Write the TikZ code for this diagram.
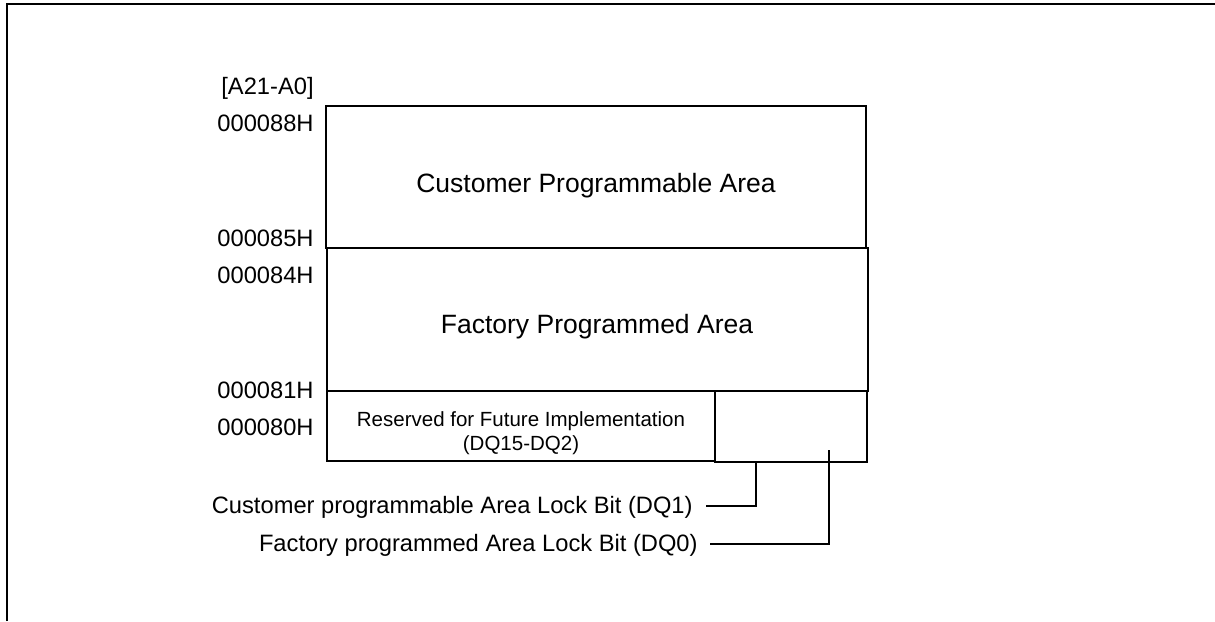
\documentclass[tikz,border=0pt]{standalone}
\usepackage{fontspec}
\setmainfont{Liberation Sans}
\begin{document}
\begin{tikzpicture}[x=0.5pt,y=-0.5pt,
  frame/.style={line width=1pt},
  boxline/.style={line width=1pt},
  leader/.style={line width=0.75pt},
  lbl/.style={inner sep=0pt,font=\fontsize{11.85}{14}\selectfont},
  big/.style={inner sep=0pt,font=\fontsize{13.25}{16}\selectfont},
  small/.style={inner sep=0pt,font=\fontsize{10.25}{12}\selectfont}]
\useasboundingbox (0,0) rectangle (1215,621);
% outer frame (left and top)
\draw[frame] (7,621) -- (7,4) -- (1215,4);
% boxes
\draw[boxline] (326,106) rectangle (866,248);
\draw[boxline] (327,248) rectangle (868,391);
\draw[boxline] (327,391) rectangle (715,461);
\draw[boxline] (715,391) rectangle (867,462);
% address labels
\node[lbl,anchor=base east] (ahead) at (314,94) {[A21-A0]};
\node[lbl,anchor=base east] (a88) at (314,131) {000088H};
\node[lbl,anchor=base east] (a85) at (314,246) {000085H};
\node[lbl,anchor=base east] (a84) at (314,283) {000084H};
\node[lbl,anchor=base east] (a81) at (314,398) {000081H};
\node[lbl,anchor=base east] (a80) at (314,435) {000080H};
% area texts
\node[big,anchor=base] (cpa) at (596,192) {Customer Programmable Area};
\node[big,anchor=base] (fpa) at (597,333) {Factory Programmed Area};
\node[small,anchor=base] (res1) at (521,426) {Reserved for Future Implementation};
\node[small,anchor=base] (res2) at (521,450) {(DQ15-DQ2)};
% lock bit labels
\node[lbl,anchor=base east] (lk1) at (693,513) {Customer programmable Area Lock Bit (DQ1)};
\node[lbl,anchor=base east] (lk0) at (698,551) {Factory programmed Area Lock Bit (DQ0)};
\coordinate (lk1s) at (706,506);
\coordinate (lk1e) at (756,462);
\coordinate (lk0s) at (710,544);
\coordinate (lk0e) at (829,450);
\draw[leader] (lk1s) -| (lk1e);
\draw[leader] (lk0s) -| (lk0e);
\end{tikzpicture}
\end{document}
